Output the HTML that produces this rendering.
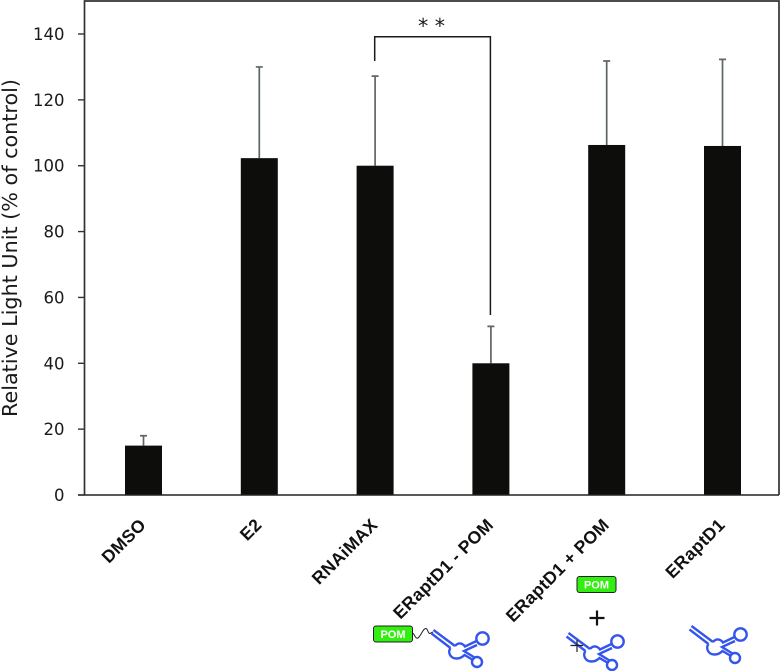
<!DOCTYPE html>
<html>
<head>
<meta charset="utf-8">
<style>
html,body{margin:0;padding:0;background:#fff;width:780px;height:671px;overflow:hidden}
svg{display:block}
.tick{font-family:"DejaVu Sans",sans-serif;font-size:16.5px;fill:#1a1a1a;text-anchor:end}
.cat{font-family:"Liberation Sans",sans-serif;font-size:17.6px;font-weight:bold;fill:#111;text-anchor:end;letter-spacing:.3px}
.pom{font-family:"Liberation Sans",sans-serif;font-size:11px;font-weight:bold;fill:#fff;text-anchor:middle}
</style>
</head>
<body>
<svg id="chart" xmlns="http://www.w3.org/2000/svg" width="780" height="671" viewBox="0 0 780 671">
  <defs>
    <g id="aptamer" fill="none" stroke="#3355ee" stroke-width="2.4">
      <path d="M433.5 630L455 646"/>
      <path d="M431.5 633.5L450.5 648"/>
      <path d="M455 646C458 642.5 462 642.5 465 646.5L476.5 641"/>
      <path d="M450.5 648C447.5 652 450 658.5 456.5 658.5C460 658.5 462.5 657 464.5 655L473 660"/>
      <path d="M477 645L464 651L474.5 657.5"/>
      <circle cx="482.5" cy="638.5" r="6.2"/>
      <circle cx="477" cy="662" r="5"/>
    </g>
  </defs>
  <g id="grid-layer"></g>
  <g id="marks"></g>
  <g id="axes"></g>

  <path d="M374.7 61V36.7H490.4V315" fill="none" stroke="#1a1a1a" stroke-width="1.5"/>
  <text x="431.5" y="33" font-family="'DejaVu Sans',sans-serif" font-size="20.5" fill="#1a1a1a" text-anchor="middle">* *</text>

  <text transform="translate(17,248) rotate(-90)" font-family="'DejaVu Sans',sans-serif" font-size="20" fill="#1a1a1a" text-anchor="middle" textLength="338" lengthAdjust="spacingAndGlyphs">Relative Light Unit (% of control)</text>

  <g>
    <rect x="373.5" y="626" width="39" height="16" rx="2.5" fill="#33ee11" stroke="#222" stroke-width="1"/>
    <text class="pom" x="393" y="638">POM</text>
    <path d="M413 633C415 636 416 639 418 638C421 636 423 628 426 628.5C428 629 428 634 430 633.5L433 632" fill="none" stroke="#222" stroke-width="1"/>
    <use href="#aptamer"/>
  </g>
  <g>
    <rect x="577" y="576.5" width="39" height="16" rx="2.5" fill="#33ee11" stroke="#222" stroke-width="1"/>
    <text class="pom" x="596.5" y="588.5">POM</text>
    <path d="M589.5 618H604.5M597 610.5V625.5" stroke="#111" stroke-width="2.2" fill="none"/>
    <use href="#aptamer" x="135" y="3"/>
    <path d="M570.5 645.5H583M577 640V652" stroke="#222" stroke-width="1.2" fill="none"/>
  </g>
  <use href="#aptamer" x="258" y="-4"/>

<script>
var categories = ['DMSO', 'E2', 'RNAiMAX', 'ERaptD1 - POM', 'ERaptD1 + POM', 'ERaptD1'];
var barValues = [15, 102.3, 100, 40, 106.3, 106];
var errorTops = [18, 130, 127.2, 51.2, 131.8, 132.3];
var tickLabels = [0, 20, 40, 60, 80, 100, 120, 140];

var NS = 'http://www.w3.org/2000/svg';
var plotLeft = 84.5, plotRight = 779, plotTop = 1;
var firstCenter = 143.5, bandStep = 115.8, barWidth = 37;

function yScale(v) { return 495 - v * (461 / 140); }
function xScale(i) { return firstCenter + i * bandStep; }
function make(tag, attrs, parent) {
  var el = document.createElementNS(NS, tag);
  for (var k in attrs) el.setAttribute(k, attrs[k]);
  parent.appendChild(el);
  return el;
}

var marks = document.getElementById('marks');
var axes = document.getElementById('axes');

categories.forEach(function (name, i) {
  var cx = xScale(i);
  var topY = yScale(barValues[i]);
  var errY = yScale(errorTops[i]);

  var err = make('path', { d: 'M' + cx + ' ' + topY + 'V' + errY + 'M' + (cx - 3.5) + ' ' + errY + 'H' + (cx + 3.5), stroke: '#5f6666', 'stroke-width': 1.7, fill: 'none' }, marks);
  
  

  var bar = make('rect', { x: cx - barWidth / 2, y: topY, width: barWidth, height: yScale(0) - topY, fill: '#0d0e0c' }, marks);
  
  

  var label = make('text', { 'class': 'cat', transform: 'translate(' + (cx + 3.5) + ',526) rotate(-45)' }, axes);
  
  
  label.textContent = name;
});

var frame = make('path', { d: 'M' + plotLeft + ' 495V' + plotTop + 'H' + plotRight + 'V495', fill: 'none', stroke: '#333', 'stroke-width': 1.7 }, axes);



var baseline = make('line', { x1: 78, x2: plotRight, y1: 495, y2: 495, stroke: '#222', 'stroke-width': 1.6 }, axes);



tickLabels.forEach(function (t) {
  var y = yScale(t);
  var mark = make('line', { x1: 78, x2: plotLeft, y1: y, y2: y, stroke: '#333', 'stroke-width': 1.4 }, axes);
  
  
  var txt = make('text', { 'class': 'tick', x: 64.5, y: y + 6 }, axes);
  
  
  txt.textContent = t;
});
</script>
</svg>
</body>
</html>
